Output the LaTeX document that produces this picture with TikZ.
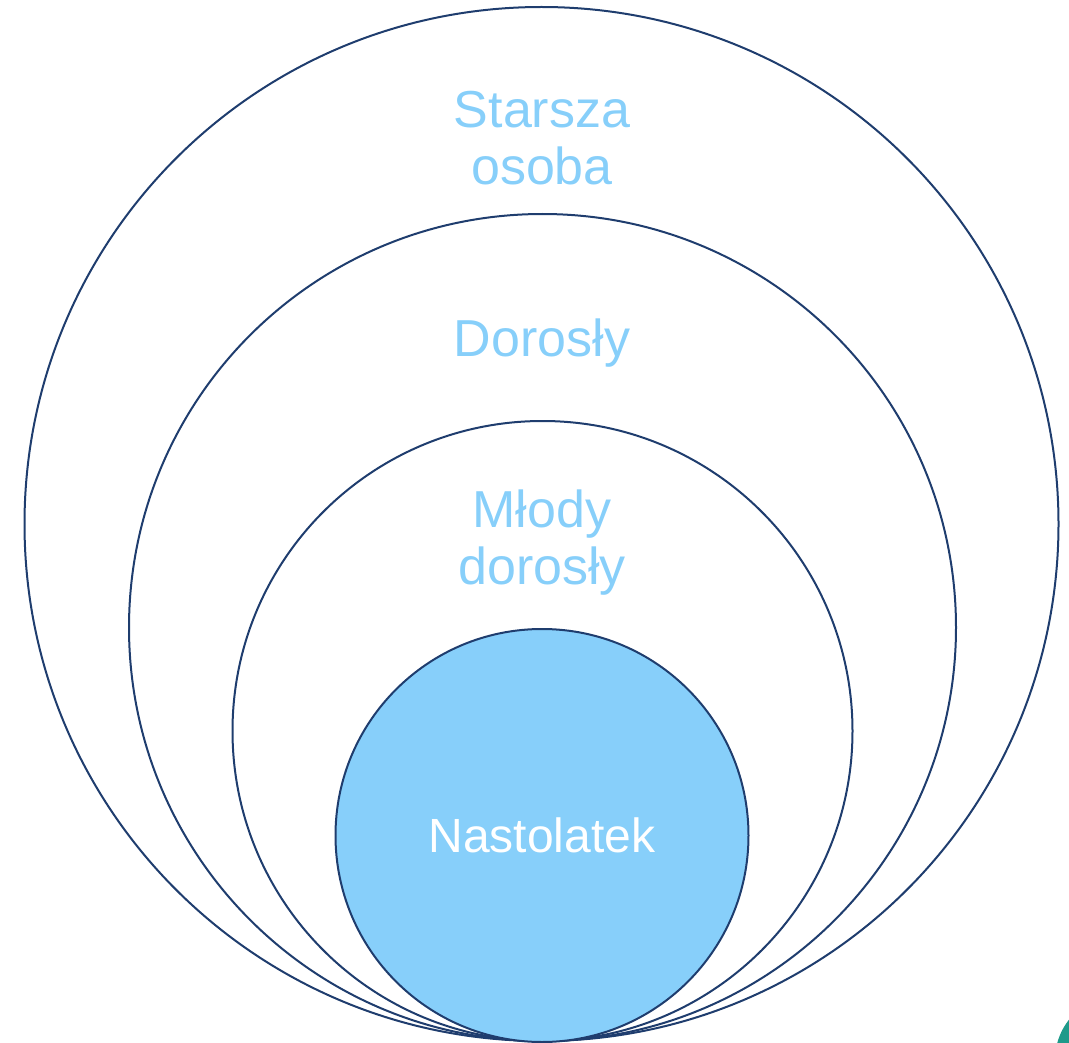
\documentclass[tikz,border=0pt]{standalone}
\usepackage{fontspec}
\setmainfont{Liberation Sans}
\definecolor{ring}{HTML}{1F3D6E}
\definecolor{sky}{HTML}{87CFFA}
\definecolor{teal}{HTML}{1E9A8A}
\begin{document}
\begin{tikzpicture}[x=1pt,y=-1pt,
  ringstyle/.style={draw=ring,line width=2pt},
  lbl/.style={text=sky,font=\fontsize{52}{57}\selectfont,align=center}]
\useasboundingbox (0,0) rectangle (1069,1043);
\begin{scope}
\clip (0,0) rectangle (1069,1043);
\fill[teal] (1120,1060) circle (65);
\end{scope}
\draw[ringstyle] (541.5,524) circle (517);
\draw[ringstyle] (542.5,627.5) circle (413.5);
\draw[ringstyle] (542.5,731) circle (310);
\draw[ringstyle,fill=sky] (542,835.5) circle (206.5);
\node[lbl] (a) at (542,138) {Starsza\\osoba};
\node[lbl] (b) at (542,343) {Dorosły};
\node[lbl] (c) at (542,543) {Młody\\dorosły};
\node[lbl,text=white,font=\fontsize{48}{54}\selectfont] (d) at (542,835) {Nastolatek};
\end{tikzpicture}
\end{document}
